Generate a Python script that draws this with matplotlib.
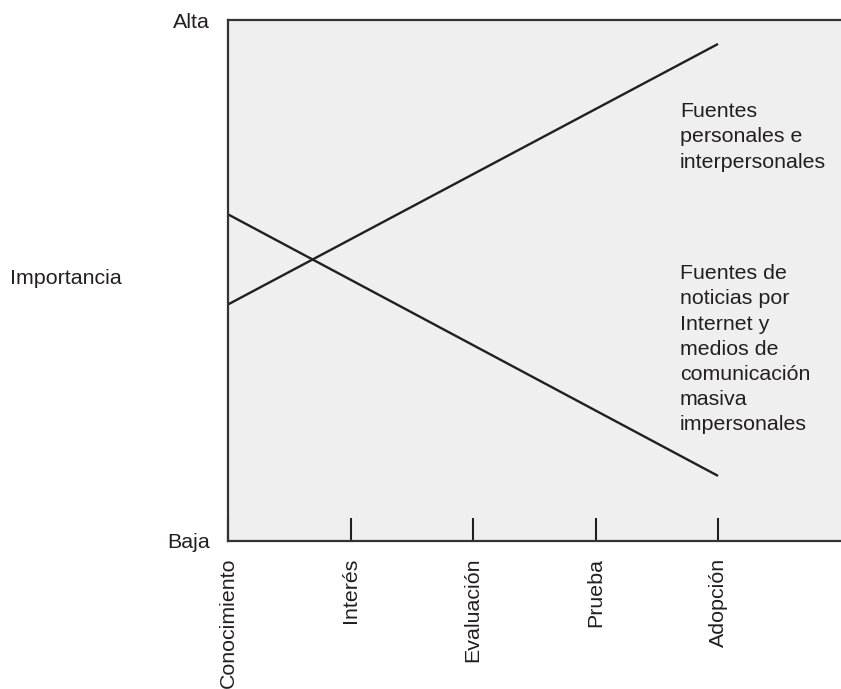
import matplotlib
matplotlib.use("Agg")
import matplotlib.pyplot as plt

plt.rcParams['font.family'] = ['Liberation Sans', 'DejaVu Sans']

stages = ["Conocimiento", "Interés", "Evaluación", "Prueba", "Adopción"]
y_labels = ["Baja", "Alta"]
line_x = [0, 4]
personal = [0.454, 0.954]
masivos = [0.627, 0.125]
label_personal = "Fuentes\npersonales e\ninterpersonales"
label_masivos = ("Fuentes de\nnoticias por\nInternet y\nmedios de\n"
                 "comunicación\nmasiva\nimpersonales")

ink = '#231f20'
fs = 15.4

fig = plt.figure(figsize=(8.41, 6.89), dpi=100)
ax = fig.add_axes([228/841, 148/689, 613/841, 521/689])
ax.set_facecolor('#efefef')

ax.plot(line_x, personal, color=ink, lw=1.7, solid_capstyle='butt')
ax.plot(line_x, masivos, color=ink, lw=1.7, solid_capstyle='butt')

ax.set_xlim(0, 5.004)
ax.set_ylim(0, 1)

ax.set_xticks(range(len(stages)))
ax.set_xticklabels(stages, rotation=90, va='top', ha='center', fontsize=fs, color=ink)
ax.tick_params(axis='x', direction='in', length=16.5, width=1.5, color=ink, pad=12)

ax.set_yticks([0, 1])
ax.set_yticklabels(y_labels, fontsize=fs, color=ink)
ax.tick_params(axis='y', length=0, pad=13)

for s in ['left', 'bottom', 'top']:
    ax.spines[s].set_color('#333333')
    ax.spines[s].set_linewidth(1.6)
ax.spines['right'].set_visible(False)

ax.text(3.69, 0.842, label_personal, ha='left', va='top', fontsize=fs, color=ink,
        linespacing=1.41)
ax.text(3.69, 0.531, label_masivos, ha='left', va='top', fontsize=fs, color=ink,
        linespacing=1.41)

fig.text(10/841, 1 - 278/689, "Importancia", ha='left', va='center', fontsize=fs, color=ink)

fig.savefig("out.png", dpi=100)
